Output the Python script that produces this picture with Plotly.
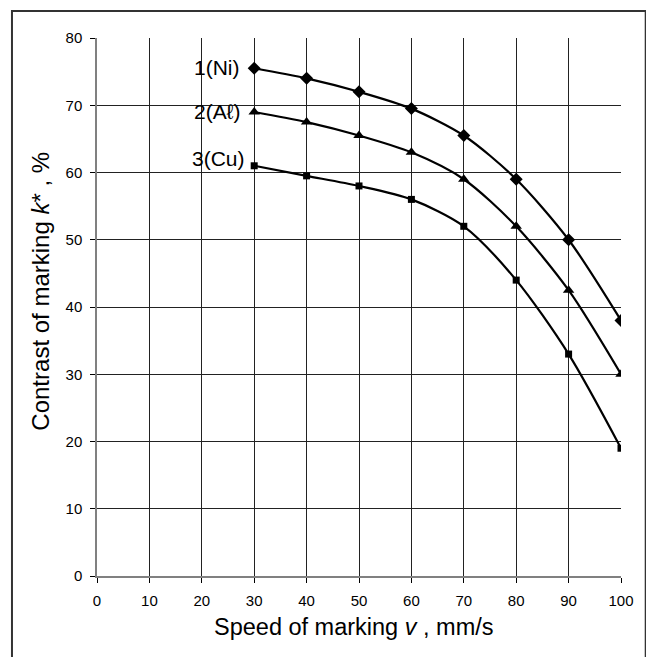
import plotly.graph_objects as go

speed = [30, 40, 50, 60, 70, 80, 90, 100]
ni = [75.5, 74, 72, 69.5, 65.5, 59, 50, 38]
al = [69, 67.5, 65.5, 63, 59, 52, 42.5, 30]
cu = [61, 59.5, 58, 56, 52, 44, 33, 19]
labels = ["1(Ni)", "2(A\u2113)", "3(Cu)"]
x_ticks = list(range(0, 101, 10))
y_ticks = list(range(0, 81, 10))
x_title = "Speed of marking <i>v</i> , mm/s"
y_title = "Contrast of marking <i>k</i>* , %"

FONT = "Liberation Sans, Arial, sans-serif"
L, R, T, B = 97, 19, 38, 81
W, H = 646, 657
pw, ph = W - L - R, H - T - B

def px(xp):
    return (xp - L) / pw

def py(yp):
    return 1 - (yp - T) / ph

fig = go.Figure()
series = [(ni, "diamond", 10), (al, "triangle-up", 10), (cu, "square", 7)]
for vals, sym, sz in series:
    fig.add_trace(go.Scatter(
        x=speed, y=vals, mode="lines+markers",
        line=dict(color="black", width=2.2, shape="spline", smoothing=0.8),
        marker=dict(symbol=sym, size=sz, color="black"),
        showlegend=False, hoverinfo="skip"))

# series labels: (x anchor in data units, vertical shift in px)
label_pos = [(27.6, 1), (27.6, 0), (28.7, 7)]
for lab, vals, (lx, sh) in zip(labels, [ni, al, cu], label_pos):
    fig.add_annotation(x=lx, y=vals[0], text=lab, showarrow=False,
                       xanchor="right", yanchor="middle", yshift=sh,
                       font=dict(size=21, color="black", family=FONT))

# axis titles
fig.add_annotation(xref="paper", yref="paper", x=px(357), y=py(627),
                   text=x_title, showarrow=False, xanchor="center", yanchor="middle",
                   font=dict(size=23.5, color="black", family=FONT))
fig.add_annotation(xref="paper", yref="paper", x=px(39), y=py(291),
                   text=y_title, showarrow=False, xanchor="center", yanchor="middle",
                   textangle=-90, font=dict(size=24, color="black", family=FONT))

# outer frame
fig.add_shape(type="rect", xref="paper", yref="paper",
              x0=px(11), x1=px(W + 6), y0=py(H + 6), y1=py(11),
              line=dict(color="#333", width=2), layer="below")

fig.update_layout(
    width=W, height=H,
    margin=dict(l=L, r=R, t=T, b=B),
    paper_bgcolor="white", plot_bgcolor="white",
    font=dict(family=FONT, color="black", size=15),
)
common = dict(showgrid=True, gridcolor="#222", gridwidth=1,
              showline=True, linecolor="#808080", linewidth=1.5,
              ticks="outside", ticklen=5, tickcolor="black", tickwidth=1,
              zeroline=False, tickfont=dict(size=15, family=FONT, color="black"))
fig.update_xaxes(range=[0, 100], tickvals=x_ticks, ticklabelstandoff=5, **common)
fig.update_yaxes(range=[0, 80], tickvals=y_ticks, ticklabelstandoff=5, **common)

fig.write_html("out.html", config={"displayModeBar": False},
               post_script="document.body.style.margin='0';")
